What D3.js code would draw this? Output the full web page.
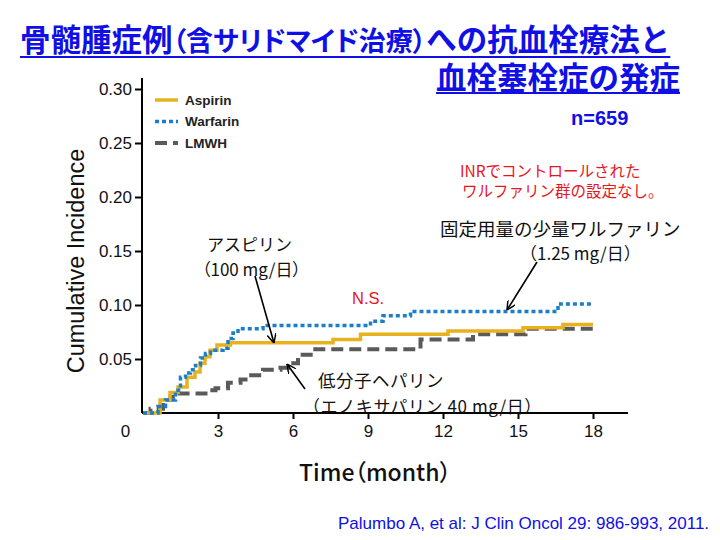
<!DOCTYPE html>
<html><head><meta charset="utf-8">
<script src="https://cdn.jsdelivr.net/npm/d3@7"></script>
<style>
body{margin:0;background:#fff}
svg{display:block}
.jp{font-family:"Noto Sans CJK JP",sans-serif}
.lat{font-family:"Liberation Sans",Arial,sans-serif}
</style></head><body>
<svg id="c" width="720" height="540"></svg>
<script>
// ---- data ----
const aspirinTime = [0, 0.68, 1.08, 1.4, 1.76, 2.08, 2.28, 2.48, 2.68, 2.96, 3.5, 7.6, 8.7, 12.2, 15.2, 16.8, 18];
const aspirinCI   = [0, 0.012, 0.019, 0.024, 0.033, 0.038, 0.046, 0.052, 0.058, 0.063, 0.065, 0.068, 0.073, 0.076, 0.079, 0.082, 0.082];
const warfarinTime = [0, 0.6, 0.9, 1.3, 1.5, 1.7, 1.9, 2.1, 2.3, 2.5, 2.7, 3.2, 3.4, 3.6, 3.8, 4.8, 9.1, 9.6, 10.7, 16.6, 18];
const warfarinCI   = [0, 0.006, 0.012, 0.021, 0.033, 0.037, 0.040, 0.044, 0.051, 0.055, 0.058, 0.060, 0.069, 0.074, 0.078, 0.081, 0.085, 0.090, 0.094, 0.101, 0.101];
const lmwhTime = [0, 0.3, 0.8, 1.1, 1.3, 2.5, 2.9, 3.4, 3.9, 4.1, 4.8, 5.5, 5.8, 6.2, 6.8, 11.1, 13.2, 15.3, 18];
const lmwhCI   = [0, 0.004, 0.012, 0.015, 0.018, 0.021, 0.023, 0.028, 0.031, 0.035, 0.040, 0.042, 0.046, 0.054, 0.059, 0.068, 0.073, 0.078, 0.079];
const seriesNames = ["Aspirin", "Warfarin", "LMWH"];
const xTicks = [0, 3, 6, 9, 12, 15, 18];
const yTicks = [0.05, 0.10, 0.15, 0.20, 0.25, 0.30];

const svg = d3.select("#c");
const x = d3.scaleLinear().domain([0, 18]).range([143, 593]);
const y = d3.scaleLinear().domain([0, 0.30]).range([413, 89]);

const styles = {
  Aspirin:  {color: "#E8B21F", dash: null,   w: 3.5},
  Warfarin: {color: "#1A7FC8", dash: "4,3",  w: 3.5},
  LMWH:     {color: "#5A5A5A", dash: "12,6", w: 4}
};

// ---- title (one two-line text) ----
const blue = "#1010E6";
const title = svg.append("text").attr("class", "jp")
  .attr("fill", blue).attr("font-weight", "bold").attr("font-size", 30.5);
const p1 = title.append("tspan").attr("x", 20).attr("y", 51).text("骨髄腫症例");
const p2 = title.append("tspan").attr("font-size", 27).style("font-feature-settings", "'palt'").text("（含サリドマイド治療）");
const p3 = title.append("tspan").text("への抗血栓療法と");
const p4 = title.append("tspan").attr("x", 680).attr("y", 89).attr("text-anchor", "end").text("血栓塞栓症の発症");
const w1 = p1.node().getComputedTextLength() + p2.node().getComputedTextLength() + p3.node().getComputedTextLength();
const w2 = p4.node().getComputedTextLength();
svg.append("line").attr("x1", 20).attr("x2", 20 + w1).attr("y1", 57).attr("y2", 57)
  .attr("stroke", blue).attr("stroke-width", 2);
svg.append("line").attr("x1", 680 - w2).attr("x2", 680).attr("y1", 93).attr("y2", 93)
  .attr("stroke", blue).attr("stroke-width", 2);

// ---- axes ----
const xAxis = d3.axisBottom(x).tickValues(xTicks).tickSize(6).tickSizeOuter(0).tickPadding(6);
const gx = svg.append("g").attr("transform", "translate(0,413)").call(xAxis);
gx.select(".domain").attr("d", "M142,0H628");
const yAxis = d3.axisLeft(y).tickValues(yTicks).tickFormat(d3.format(".2f")).tickSize(7).tickSizeOuter(0).tickPadding(3);
const gy = svg.append("g").attr("transform", "translate(142,0)").call(yAxis);
gy.select(".domain").attr("d", "M0,78V413");
[gx, gy].forEach(g => {
  g.selectAll(".domain, .tick line").attr("stroke", "#000").attr("stroke-width", 2);
  g.selectAll(".tick text").attr("class", "lat").attr("font-size", 17).attr("fill", "#111");
});
gx.selectAll(".tick").filter(d => d === 0).each(function() {
  d3.select(this).select("line").remove();
  d3.select(this).select("text").attr("dx", -18);
});

svg.append("text").attr("class", "lat").attr("transform", "translate(76,261) rotate(-90)")
  .attr("text-anchor", "middle").attr("dominant-baseline", "central")
  .attr("font-size", 23.5).attr("fill", "#111").text("Cumulative Incidence");
svg.append("text").attr("class", "jp").attr("x", 375).attr("y", 481).attr("text-anchor", "middle")
  .attr("font-size", 23).attr("font-weight", 500).attr("fill", "#111")
  .style("font-feature-settings", "'palt'").text("Time（month）");

// ---- lines ----
const line = d3.line().x(d => x(d[0])).y(d => y(d[1])).curve(d3.curveStepAfter);
const data = {
  LMWH: d3.zip(lmwhTime, lmwhCI),
  Aspirin: d3.zip(aspirinTime, aspirinCI),
  Warfarin: d3.zip(warfarinTime, warfarinCI)
};
["LMWH", "Aspirin", "Warfarin"].forEach(k => {
  svg.append("path").attr("d", line(data[k])).attr("fill", "none")
    .attr("stroke", styles[k].color).attr("stroke-width", styles[k].w)
    .attr("stroke-dasharray", styles[k].dash);
});

// ---- legend ----
seriesNames.forEach((k, i) => {
  const yy = 100 + i * 21.5;
  svg.append("line").attr("x1", 155).attr("x2", 178).attr("y1", yy).attr("y2", yy)
    .attr("stroke", styles[k].color).attr("stroke-width", styles[k].w)
    .attr("stroke-dasharray", styles[k].dash);
  svg.append("text").attr("class", "lat").attr("x", 185).attr("y", yy)
    .attr("dominant-baseline", "central").attr("font-size", 13.5).attr("font-weight", "bold")
    .attr("fill", "#222").text(k);
});

// ---- annotations ----
svg.append("defs").append("marker").attr("id", "ah").attr("viewBox", "0 0 10 10")
  .attr("refX", 10).attr("refY", 5).attr("markerWidth", 9).attr("markerHeight", 9)
  .attr("markerUnits", "userSpaceOnUse").attr("orient", "auto")
  .append("path").attr("d", "M0,0L10,5L0,10").attr("fill", "none").attr("stroke", "#000").attr("stroke-width", 1.6);
function arrow(x1, y1, x2, y2) {
  svg.append("line").attr("x1", x1).attr("y1", y1).attr("x2", x2).attr("y2", y2)
    .attr("stroke", "#000").attr("stroke-width", 1.6).attr("marker-end", "url(#ah)");
}
arrow(255, 276, 274, 343);
arrow(305, 389, 287, 364);
arrow(537, 262, 507, 310);

function label(txt, xx, yy, size, color, opts = {}) {
  const t = svg.append("text").attr("class", opts.lat ? "lat" : "jp").attr("x", xx).attr("y", yy)
    .attr("font-size", size).attr("fill", color).attr("dominant-baseline", "central")
    .attr("text-anchor", opts.anchor || "start").text(txt);
  if (opts.bold) t.attr("font-weight", "bold");
  if (opts.palt) t.style("font-feature-settings", "'palt'");
  return t;
}
label("n=659", 571, 118, 20, "#1010E6", {lat: true, bold: true});
label("INRでコントロールされた", 460, 170, 15.5, "#E8141E");
label("ワルファリン群の設定なし。", 462, 190, 15.5, "#E8141E");
label("固定用量の少量ワルファリン", 440, 228, 18.5, "#111");
label("（1.25 mg/日）", 520, 252, 17, "#111");
label("アスピリン", 207, 243, 17, "#111");
label("（100 mg/日）", 202, 268, 17, "#111", {palt: true});
label("N.S.", 352, 298, 16.5, "#E8141E", {lat: true});
label("低分子ヘパリン", 318, 379.5, 17.5, "#111").style("letter-spacing", "0.5px");
label("（エノキサパリン 40 mg/日）", 303, 405.5, 17, "#111").style("letter-spacing", "0.6px");
label("Palumbo A, et al: J Clin Oncol 29: 986-993, 2011.", 338, 523, 17, "#1010E6", {lat: true});
</script>
</body></html>
